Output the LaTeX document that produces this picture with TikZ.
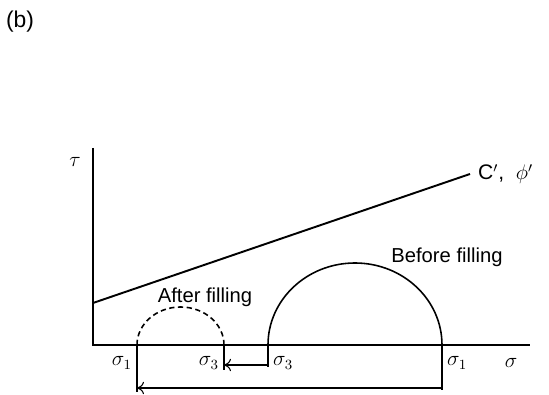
\documentclass[tikz,border=0pt]{standalone}
\usepackage{fontspec}
\setmainfont{Liberation Sans}
\usepackage{amsmath,amssymb}
\usetikzlibrary{arrows.meta}

\begin{document}
\begin{tikzpicture}[x=.02cm,y=.02cm,
  axisline/.style={line width=1.1pt},
  thinline/.style={line width=.6pt},
  circline/.style={line width=.9pt},
  txtlabel/.style={inner sep=1pt,font=\fontsize{11.5}{13}\selectfont},
  symlabel/.style={inner sep=1pt,font=\fontsize{12}{14}\selectfont}]
\useasboundingbox (0,0) rectangle (549,395);
\coordinate (O) at (93,50);
\coordinate (ytop) at (93,247);
\coordinate (xend) at (530,50);
\coordinate (coh) at (93,92);
\coordinate (envend) at (470,221);
\coordinate (s1a) at (137,50);
\coordinate (s3a) at (224,50);
\coordinate (s3b) at (268,50);
\coordinate (s1b) at (442,50);
\coordinate (s1abot) at (137,3);
\coordinate (s3abot) at (224,25);
\coordinate (s3bbot) at (268,28);
\coordinate (s1bbot) at (442,5);
\coordinate (arra) at (268,30);
\coordinate (arrb) at (224,30);
\coordinate (arrc) at (442,7);
\coordinate (arrd) at (137,7);
% axes and envelope
\draw[axisline] (ytop) -- (O) -- (xend);
\draw[axisline] (coh) -- (envend);
% circles
\draw[circline,dashed,dash pattern=on 3pt off 2pt] (s1a) arc[start angle=180,end angle=0,x radius=43.5,y radius=38];
\draw[circline] (s3b) arc[start angle=180,end angle=0,x radius=87,y radius=82];
% ticks and arrows
\draw[thinline] (s1a) -- (s1abot);
\draw[thinline] (s3a) -- (s3abot);
\draw[thinline] (s3b) -- (s3bbot);
\draw[thinline] (s1b) -- (s1bbot);
\draw[thinline,-{To[length=4pt,width=7pt]}] (arra) -- (arrb);
\draw[thinline,-{To[length=4pt,width=7pt]}] (arrc) -- (arrd);
% labels
\node[txtlabel,font=\fontsize{13}{15}\selectfont] (blabel) at (20,373) {(b)};
\node[symlabel] (tau) at (75,233) {$\tau$};
\node[symlabel,anchor=west] (cphi) at (476,221) {C$'$,\ \ $\phi'$};
\node[txtlabel] (after) at (205,98) {After filling};
\node[txtlabel] (before) at (447,138) {Before filling};
\node[symlabel,anchor=east] (sig1a) at (134,32) {$\sigma_1$};
\node[symlabel,anchor=east] (sig3a) at (221,32) {$\sigma_3$};
\node[symlabel,anchor=west] (sig3b) at (271,32) {$\sigma_3$};
\node[symlabel,anchor=west] (sig1b) at (445,32) {$\sigma_1$};
\node[symlabel] (sig) at (511,32) {$\sigma$};
\end{tikzpicture}
\end{document}
